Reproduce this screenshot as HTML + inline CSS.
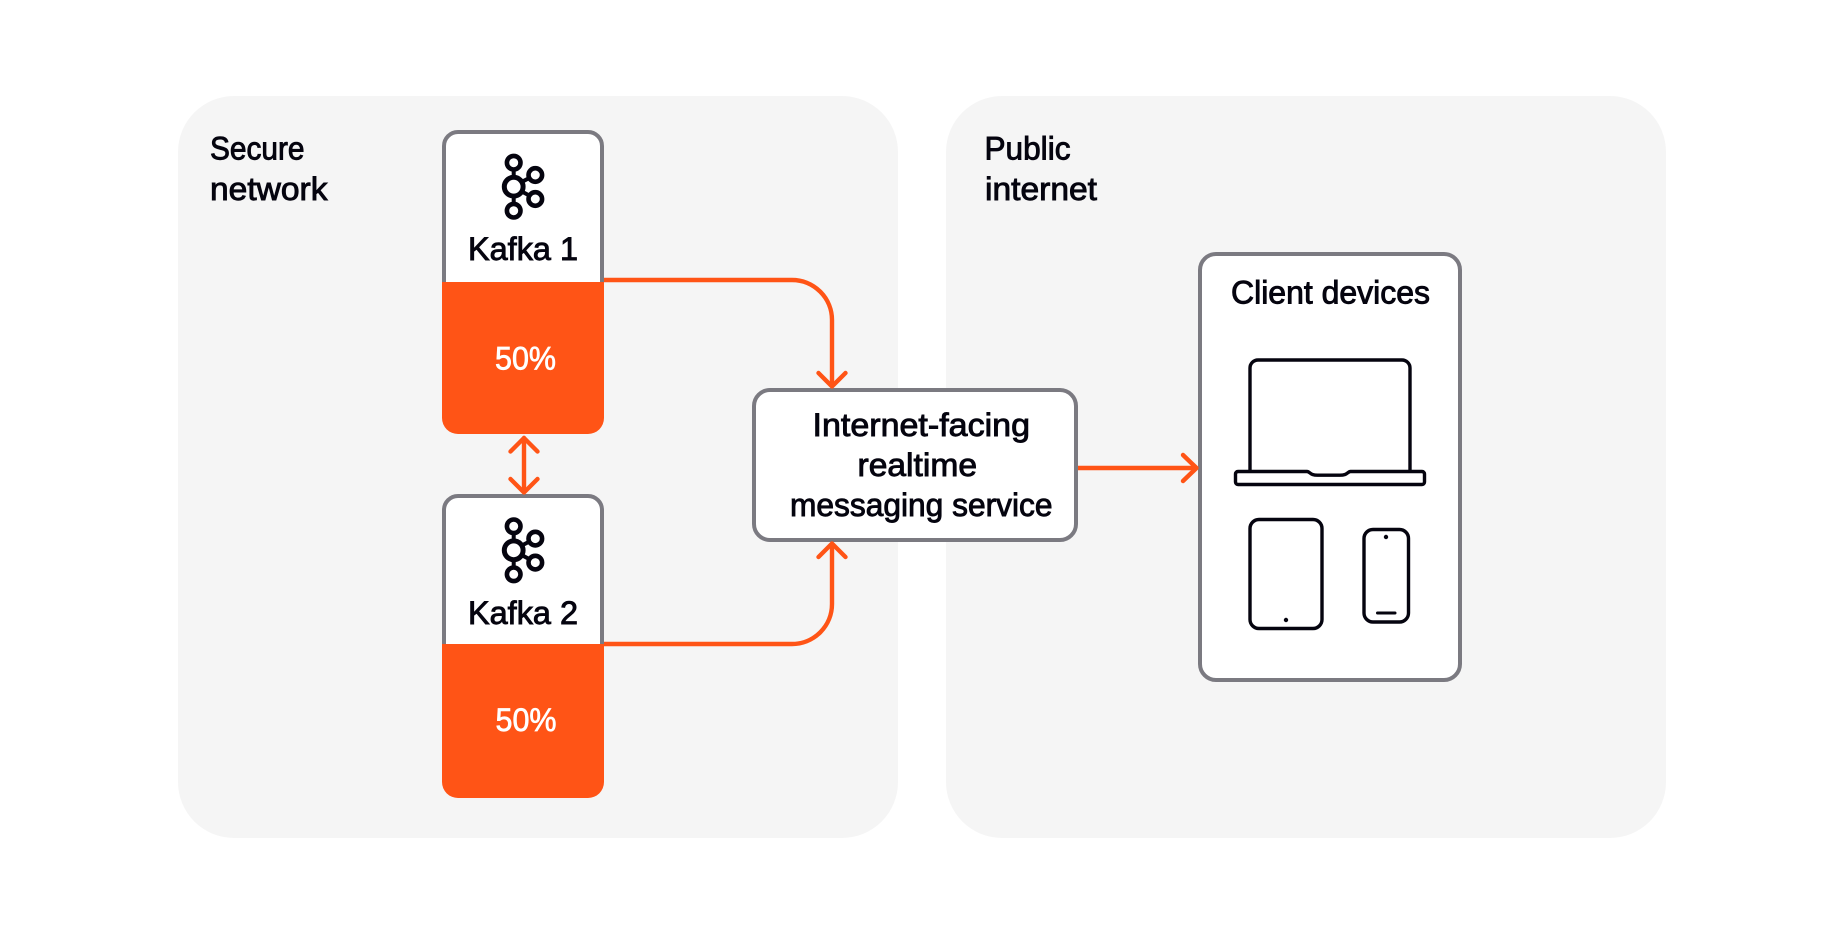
<!DOCTYPE html>
<html lang="en">
<head>
<meta charset="utf-8">
<title>Kafka to client devices</title>
<style>
html,body{margin:0;padding:0;background:#fff;width:1840px;height:928px;overflow:hidden}
svg{display:block}
text{font-family:"Liberation Sans",sans-serif;font-size:32px;fill:#05040f;stroke:#05040f;stroke-width:.9px}
text.w{fill:#fff;stroke:#fff;stroke-width:.7px}
.box{fill:#fff;stroke:#7b7a81;stroke-width:4}
.o{fill:none;stroke:#ff5416;stroke-width:4.400;stroke-linecap:round;stroke-linejoin:round}
.i{fill:none;stroke:#05040f;stroke-width:3.400;stroke-linejoin:round}
.k{fill:none;stroke:#05040f;stroke-width:4.600}
</style>
</head>
<body>
<svg width="1840" height="928" viewBox="0 0 1840 928" xmlns="http://www.w3.org/2000/svg">
<rect x="178" y="96" width="720" height="742" rx="56" fill="#f5f5f5"/>
<rect x="946" y="96" width="720" height="742" rx="56" fill="#f5f5f5"/>

<text x="210" y="159.500" textLength="94.500" lengthAdjust="spacingAndGlyphs">Secure</text>
<text x="210" y="200" textLength="117.500" lengthAdjust="spacingAndGlyphs">network</text>
<text x="984.500" y="159.500" textLength="86" lengthAdjust="spacingAndGlyphs">Public</text>
<text x="985" y="200" textLength="112" lengthAdjust="spacingAndGlyphs">internet</text>

<!-- Kafka 1 -->
<rect class="box" x="444" y="132" width="158" height="170" rx="14"/>
<path d="M442 282H604V418a16 16 0 0 1-16 16H458a16 16 0 0 1-16-16Z" fill="#ff5416"/>
<g class="k">
<circle cx="513.700" cy="162.700" r="6.800"/>
<circle cx="513.700" cy="186.700" r="9.400" stroke-width="5"/>
<circle cx="513.700" cy="210.700" r="6.800"/>
<circle cx="535.300" cy="175" r="6.800"/>
<circle cx="535.300" cy="199" r="6.800"/>
<path stroke-width="4" d="M513.700 169.700V177M513.700 196.400V203.700M522 181.800L529.300 178M522 191.600L529.300 195.500"/>
</g>
<text x="468" y="260" textLength="110" lengthAdjust="spacingAndGlyphs">Kafka 1</text>
<text class="w" x="495" y="369.500" textLength="61" lengthAdjust="spacingAndGlyphs">50%</text>

<!-- Kafka 2 -->
<rect class="box" x="444" y="496" width="158" height="170" rx="14"/>
<path d="M442 644H604V782a16 16 0 0 1-16 16H458a16 16 0 0 1-16-16Z" fill="#ff5416"/>
<g class="k" transform="translate(0 363.600)">
<circle cx="513.700" cy="162.700" r="6.800"/>
<circle cx="513.700" cy="186.700" r="9.400" stroke-width="5"/>
<circle cx="513.700" cy="210.700" r="6.800"/>
<circle cx="535.300" cy="175" r="6.800"/>
<circle cx="535.300" cy="199" r="6.800"/>
<path stroke-width="4" d="M513.700 169.700V177M513.700 196.400V203.700M522 181.800L529.300 178M522 191.600L529.300 195.500"/>
</g>
<text x="468" y="624" textLength="110" lengthAdjust="spacingAndGlyphs">Kafka 2</text>
<text class="w" x="495.500" y="731" textLength="61" lengthAdjust="spacingAndGlyphs">50%</text>

<!-- Service -->
<rect class="box" x="754" y="390" width="322" height="150" rx="16"/>
<text x="812.500" y="436" textLength="217.500" lengthAdjust="spacingAndGlyphs">Internet-facing</text>
<text x="857.500" y="476" textLength="119.500" lengthAdjust="spacingAndGlyphs">realtime</text>
<text x="790" y="516" textLength="262.500" lengthAdjust="spacingAndGlyphs">messaging service</text>

<!-- Client devices -->
<rect class="box" x="1200" y="254" width="260" height="426" rx="16"/>
<text x="1231" y="303.500" textLength="199" lengthAdjust="spacingAndGlyphs">Client devices</text>
<path class="i" d="M1250 471V368a8 8 0 0 1 8-8H1402a8 8 0 0 1 8 8V471"/>
<path class="i" d="M1238 471.500H1307c2 0 3 2.200 5.500 3 1.500.5 3 .7 5 .7H1340c2 0 3.500-.2 5-.7 2.500-.8 3.500-3 5.500-3H1422a2.500 2.500 0 0 1 2.500 2.500V482a2.500 2.500 0 0 1-2.500 2.500H1238a2.500 2.500 0 0 1-2.500-2.500V474a2.500 2.500 0 0 1 2.500-2.500Z"/>
<rect class="i" x="1250" y="519.500" width="72" height="109" rx="9"/>
<circle cx="1286" cy="620" r="2.200" fill="#05040f"/>
<rect class="i" x="1364" y="529.500" width="44.500" height="92.500" rx="9"/>
<circle cx="1386" cy="537" r="2.200" fill="#05040f"/>
<path d="M1377.500 613H1395" stroke="#05040f" stroke-width="3" stroke-linecap="round" fill="none"/>

<!-- Connectors -->
<path class="o" style="stroke-linecap:butt" d="M604 280H792a40 40 0 0 1 40 40V386"/>
<path class="o" d="M818.500 373L832 386.500L845.500 373"/>
<path class="o" style="stroke-linecap:butt" d="M604 644H792a40 40 0 0 0 40-40V544"/>
<path class="o" d="M818.500 557L832 543.500L845.500 557"/>
<path class="o" style="stroke-linecap:butt" d="M1078 468H1196"/>
<path class="o" d="M1183 455L1196.500 468L1183 481"/>
<path class="o" d="M524 438V491"/>
<path class="o" d="M510.500 451.500L524 438L537.500 451.500"/>
<path class="o" d="M510.500 479L524 492.500L537.500 479"/>
</svg>
</body>
</html>
